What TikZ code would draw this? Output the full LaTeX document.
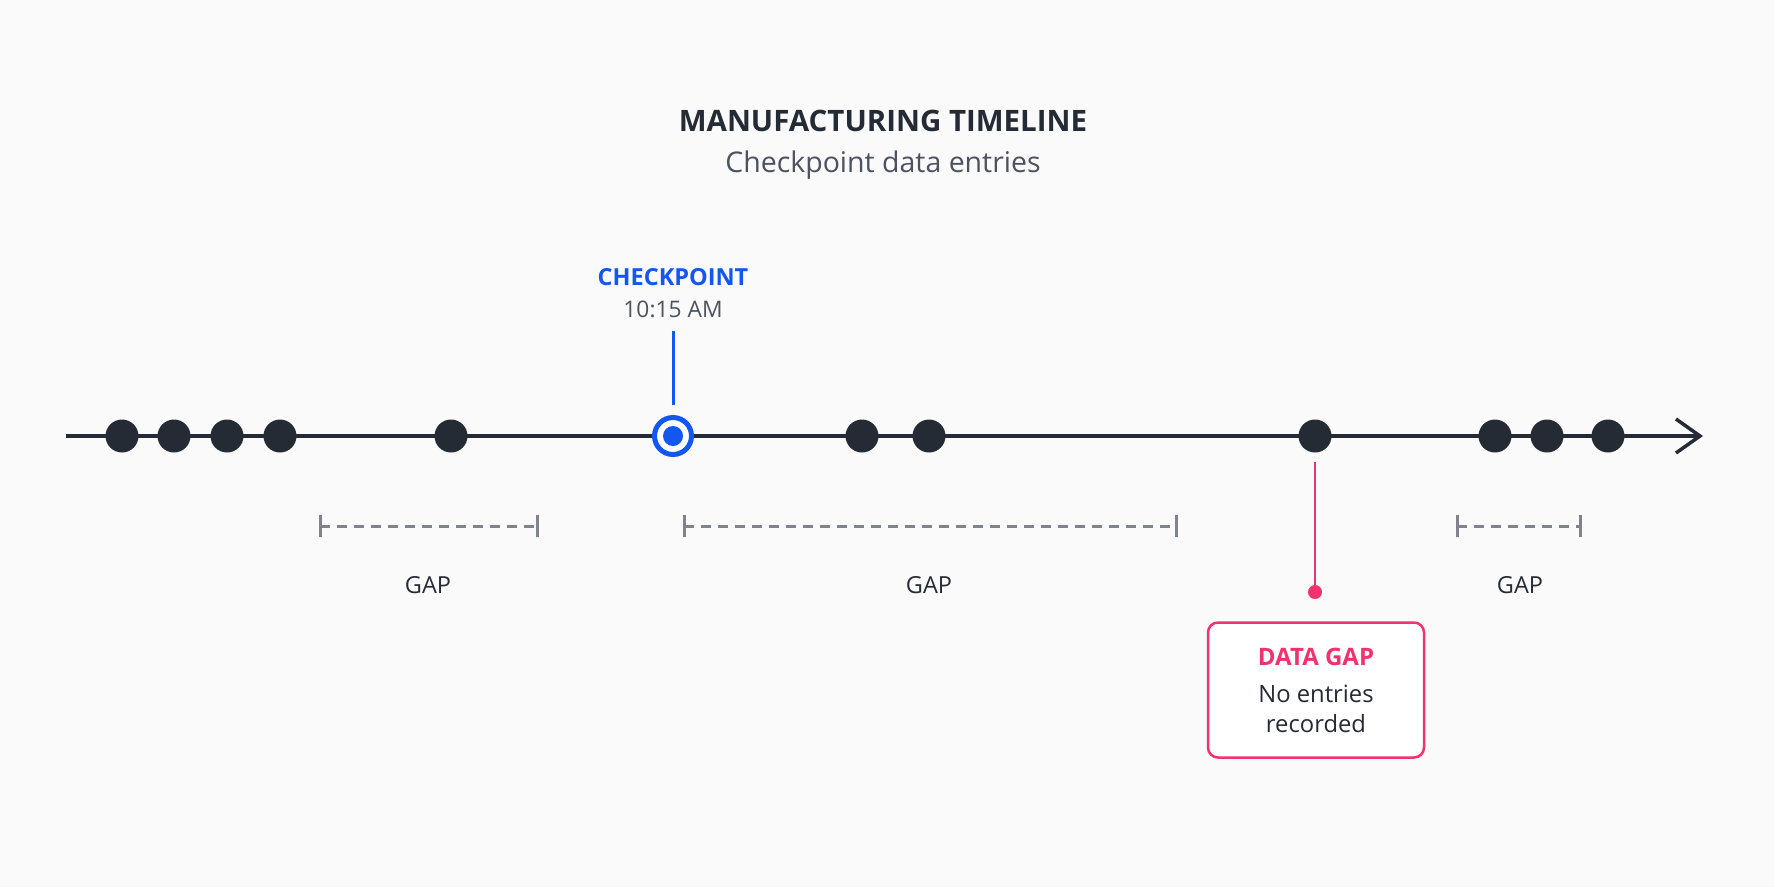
\documentclass[tikz,border=0pt]{standalone}
\usepackage{fontspec}
\setmainfont{Open Sans}
\usetikzlibrary{arrows.meta}
\definecolor{ink}{HTML}{252B35}
\definecolor{cpblue}{HTML}{1258F0}
\definecolor{gappink}{HTML}{F0336E}
\definecolor{dashgray}{HTML}{7E838D}
\definecolor{subgray}{HTML}{4B5361}
\definecolor{bgcol}{HTML}{FAFAFA}
\tikzset{
  dot/.style={circle, fill=ink, minimum size=33pt, inner sep=0pt},
  gapline/.style={draw=dashgray, line width=3pt, dash pattern=on 10pt off 7pt},
  gaptick/.style={draw=dashgray, line width=3pt},
  gaplabel/.style={text=ink, font=\fontsize{23.5}{27}\selectfont},
  txt/.style={inner sep=0pt, anchor=center}
}
\begin{document}
\begin{tikzpicture}[x=1pt, y=-1pt]
\fill[bgcol] (0,0) rectangle (1774,887);
\useasboundingbox (0,0) rectangle (1774,887);

% titles
\node[txt, text=ink, font=\fontsize{29.5}{34}\selectfont\bfseries] (title) at (883,121) {MANUFACTURING TIMELINE};
\node[txt, text=subgray, font=\fontsize{28.5}{33}\selectfont] (subtitle) at (883,165) {Checkpoint data entries};

% timeline
\coordinate (tstart) at (66,436);
\coordinate (tend) at (1703,436);
\draw[ink, line width=3.5pt, -{Straight Barb[length=24pt, width=34pt, line width=3.5pt]}] (tstart) -- (tend);

% dots
\node[dot] (d1) at (122,436) {};
\node[dot] (d2) at (174,436) {};
\node[dot] (d3) at (227,436) {};
\node[dot] (d4) at (280,436) {};
\node[dot] (d5) at (451,436) {};
\node[dot] (d6) at (862,436) {};
\node[dot] (d7) at (929,436) {};
\node[dot] (d8) at (1315,436) {};
\node[dot] (d9) at (1495,436) {};
\node[dot] (d10) at (1547,436) {};
\node[dot] (d11) at (1608,436) {};

% checkpoint
\node[circle, draw=cpblue, line width=5pt, fill=white, minimum size=37pt, inner sep=0pt] (cp) at (673,436) {};
\node[circle, fill=cpblue, minimum size=20pt, inner sep=0pt] (cpin) at (673,436) {};
\coordinate (cptop) at (673,331);
\coordinate (cpbot) at (673,405);
\draw[cpblue, line width=3pt] (cptop) -- (cpbot);
\node[txt, text=cpblue, font=\fontsize{23.5}{27}\selectfont\bfseries] (cplabel) at (673,277) {CHECKPOINT};
\node[txt, text=subgray, font=\fontsize{22.8}{27}\selectfont] (cptime) at (673,309) {10:15 AM};

% gaps
\coordinate (g1a) at (320,526); \coordinate (g1b) at (537,526);
\coordinate (g2a) at (684,526); \coordinate (g2b) at (1176,526);
\coordinate (g3a) at (1457,526); \coordinate (g3b) at (1580,526);
\foreach \a/\b in {g1a/g1b, g2a/g2b, g3a/g3b}{
  \draw[gapline] (\a) -- (\b);
  \draw[gaptick] ([yshift=-11pt]\a) -- ([yshift=11pt]\a);
  \draw[gaptick] ([yshift=-11pt]\b) -- ([yshift=11pt]\b);
}
\node[txt, gaplabel] (gl1) at (428,585) {GAP};
\node[txt, gaplabel] (gl2) at (929,585) {GAP};
\node[txt, gaplabel] (gl3) at (1520,585) {GAP};

% data gap callout
\coordinate (pinktop) at (1315,462);
\node[circle, fill=gappink, minimum size=14pt, inner sep=0pt] (pinkdot) at (1315,592) {};
\draw[gappink, line width=2.5pt] (pinktop) -- (pinkdot.center);
\node[draw=gappink, line width=2.5pt, rounded corners=10pt, fill=white, minimum width=216pt, minimum height=135pt] (box) at (1316,690) {};
\node[txt, text=gappink, font=\fontsize{24}{28}\selectfont\bfseries] (dg) at (1316,657) {DATA GAP};
\node[txt, text=ink, font=\fontsize{23.8}{28}\selectfont] (dg2) at (1316,694) {No entries};
\node[txt, text=ink, font=\fontsize{23.8}{28}\selectfont] (dg3) at (1316,724) {recorded};
\end{tikzpicture}
\end{document}
